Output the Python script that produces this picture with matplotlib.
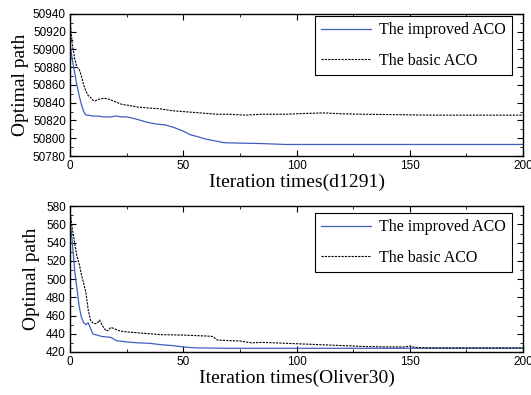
import matplotlib
matplotlib.use('Agg')
import matplotlib.pyplot as plt
from matplotlib.ticker import MultipleLocator

# d1291 - improved ACO
d_imp_x = [0, 1, 2, 3, 4, 5, 6, 7, 8, 10, 12, 15, 18, 20, 23, 25, 27, 30, 34, 38,
           42, 46, 50, 53, 56, 60, 64, 68, 75, 85, 95, 110, 130, 150, 170, 200]
d_imp_y = [50905, 50888, 50874, 50860, 50848, 50838, 50830, 50826, 50826, 50825,
           50825, 50824, 50824, 50825, 50824, 50824, 50823, 50821, 50818, 50816,
           50815, 50812, 50808, 50804, 50802, 50799, 50797, 50795, 50794.5, 50794,
           50793, 50793, 50793, 50793, 50793, 50793]
# d1291 - basic ACO
d_bas_x = [0, 1, 2, 3, 4, 5, 6, 7, 8, 9, 10, 11, 13, 15, 17, 19, 21, 23, 26, 30,
           35, 40, 45, 50, 55, 60, 65, 70, 78, 84, 95, 105, 112, 120, 130, 145,
           160, 175, 190, 200]
d_bas_y = [50932, 50905, 50890, 50880, 50878, 50870, 50860, 50853, 50848, 50846,
           50843, 50842, 50844, 50845, 50844, 50842, 50840, 50838, 50837, 50835,
           50834, 50833, 50831, 50830, 50829, 50828, 50827, 50827, 50826, 50827,
           50827, 50828, 50828.5, 50827.5, 50827, 50826.5, 50826, 50826, 50826, 50826]

# Oliver30 - improved ACO
o_imp_x = [0, 1, 2, 3, 4, 5, 6, 7, 8, 9, 10, 11, 12, 14, 16, 18, 20, 21, 22, 25,
           30, 35, 40, 45, 50, 55, 70, 100, 150, 200]
o_imp_y = [565, 540, 510, 490, 470, 458, 452, 450, 452, 446, 440, 439, 438.5, 437,
           436.5, 436, 433, 432, 432, 431, 430, 429.5, 428, 427, 425.5, 424.5, 424,
           424, 424, 424]
# Oliver30 - basic ACO
o_bas_x = [0, 1, 2, 3, 4, 5, 6, 7, 8, 9, 10, 11, 12, 13, 14, 15, 16, 17, 18, 19,
           20, 22, 25, 30, 35, 40, 50, 55, 60, 63, 65, 70, 75, 80, 85, 90, 100, 110,
           120, 130, 140, 148, 150, 152, 160, 180, 200]
o_bas_y = [575, 555, 540, 525, 517, 505, 495, 485, 466, 455, 452, 451, 451.5, 455,
           450, 446, 443, 444, 447, 446, 445, 443, 442, 441, 440, 439, 438.5, 438,
           437.5, 437, 433, 432.5, 432, 430, 430.5, 430, 429, 428, 427, 426, 425.5,
           425.5, 426.5, 425, 424.5, 424.5, 424.5]

labels = ['The improved ACO', 'The basic ACO']
blue = '#3f5fbf'

plt.rcParams['font.family'] = ['Liberation Sans', 'DejaVu Sans']
serif = 'Liberation Serif'

fig = plt.figure(figsize=(5.31, 3.95), dpi=100)
ax1 = fig.add_axes([0.132, 0.605, 0.853, 0.36])
ax2 = fig.add_axes([0.132, 0.109, 0.853, 0.369])

panels = [
    (ax1, d_imp_x, d_imp_y, d_bas_x, d_bas_y, (50780, 50940), 'Iteration times(d1291)', 0.986, 3),
    (ax2, o_imp_x, o_imp_y, o_bas_x, o_bas_y, (420, 580), 'Iteration times(Oliver30)', 0.954, 4),
]

for ax, ix, iy, bx, by, ylim, xlab, ly, ypad in panels:
    ax.plot(ix, iy, color=blue, lw=0.9, label=labels[0])
    ax.plot(bx, by, color='black', lw=0.8, linestyle=(0, (2, 1)), label=labels[1])
    ax.set_xlim(0, 200)
    ax.set_ylim(*ylim)
    ax.xaxis.set_major_locator(MultipleLocator(50))
    ax.xaxis.set_minor_locator(MultipleLocator(25))
    ax.yaxis.set_major_locator(MultipleLocator(20))
    ax.yaxis.set_minor_locator(MultipleLocator(10))
    ax.tick_params(which='both', direction='in', top=True, right=True,
                   labelsize=8.5, pad=3, colors='black')
    ax.tick_params(which='major', length=4.5, width=0.8)
    ax.tick_params(which='minor', length=2, width=0.6)
    for sp in ax.spines.values():
        sp.set_linewidth(1.0)
    ax.set_xlabel(xlab, family=serif, fontsize=14, labelpad=1)
    ax.set_ylabel('Optimal path', family=serif, fontsize=14, labelpad=ypad)
    leg = ax.legend(loc='upper right', bbox_to_anchor=(0.9757, ly),
                    prop={'family': serif, 'size': 11.5}, frameon=True,
                    fancybox=False, edgecolor='black', framealpha=1,
                    borderaxespad=0, borderpad=0.4, handlelength=3.1,
                    handletextpad=0.5, labelspacing=0.9)
    leg.get_frame().set_linewidth(0.8)

fig.savefig('out.png', dpi=100)
